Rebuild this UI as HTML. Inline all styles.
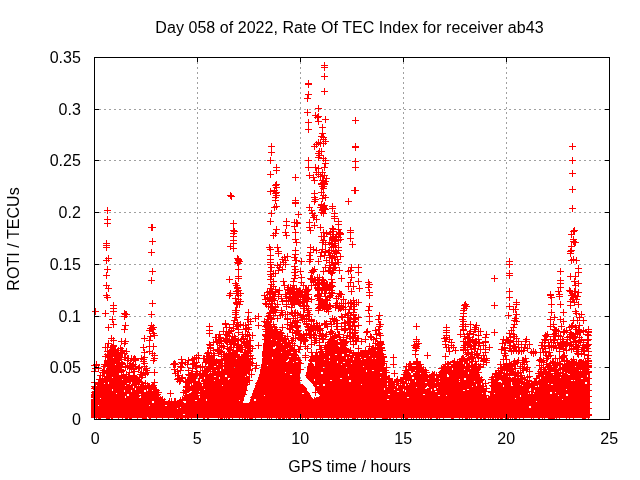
<!DOCTYPE html>
<html><head><meta charset="utf-8"><title>ROTI ab43</title>
<style>html,body{margin:0;padding:0;background:#fff;width:640px;height:480px;overflow:hidden}
svg{display:block}
text{font-family:"Liberation Sans",Arial,sans-serif;font-size:16px;letter-spacing:0.05px;fill:#000}
</style></head><body>
<svg width="640" height="480" viewBox="0 0 640 480">
<rect width="640" height="480" fill="#fff"/>
<path d="M197.5 57V419M300.5 57V419M403.5 57V419M506.5 57V419M94 367.5H609M94 316.5H609M94 264.5H609M94 212.5H609M94 160.5H609M94 109.5H609" stroke="#a0a0a0" stroke-width="1" stroke-dasharray="2 3" fill="none" shape-rendering="crispEdges"/>
<defs><marker id="m" markerUnits="userSpaceOnUse" markerWidth="8" markerHeight="8" refX="0" refY="0" overflow="visible"><path d="M-3 0h7v1h-7zM0 -3h1v7h-1z" fill="#f00" shape-rendering="crispEdges"/></marker>
<mask id="hm" maskUnits="userSpaceOnUse" x="0" y="0" width="640" height="480"><rect width="640" height="480" fill="#fff"/><g fill="#000" shape-rendering="crispEdges"><path d="M91 397h1v2h-1zM92 398h1v1h-1zM93 388h1v1h-1zM93 390h2v1h-2zM94 386h2v1h-2zM94 394h2v1h-2zM95 384h2v2h-2zM98 382h1v1h-1zM98 405h1v1h-1zM100 398h1v1h-1zM101 376h2v2h-2zM102 369h2v1h-2zM103 377h1v1h-1zM104 368h2v2h-2zM104 383h1v1h-1zM105 367h2v1h-2zM105 374h1v2h-1zM106 370h1v1h-1zM107 361h2v1h-2zM107 365h1v2h-1zM108 382h1v2h-1zM109 355h1v1h-1zM112 377h1v1h-1zM112 389h1v2h-1zM113 356h1v2h-1zM114 361h2v1h-2zM115 363h1v2h-1zM116 393h1v1h-1zM119 366h1v1h-1zM119 373h2v2h-2zM121 373h2v1h-2zM122 375h2v1h-2zM122 379h1v1h-1zM122 414h1v2h-1zM124 390h1v2h-1zM125 385h1v1h-1zM125 396h1v2h-1zM127 383h2v1h-2zM127 394h2v2h-2zM130 384h1v1h-1zM131 376h1v1h-1zM131 382h1v2h-1zM131 390h1v2h-1zM132 378h2v2h-2zM132 381h2v2h-2zM133 379h1v2h-1zM133 386h1v2h-1zM135 388h1v2h-1zM135 389h1v1h-1zM137 385h1v1h-1zM139 385h1v1h-1zM139 394h2v1h-2zM139 397h1v1h-1zM140 383h1v1h-1zM140 396h1v2h-1zM143 382h1v1h-1zM144 383h2v2h-2zM144 384h1v2h-1zM144 390h2v2h-2zM145 385h1v1h-1zM146 384h2v1h-2zM146 386h1v1h-1zM147 389h1v2h-1zM147 417h1v2h-1zM149 386h2v1h-2zM149 405h1v1h-1zM149 412h2v2h-2zM152 385h2v1h-2zM152 386h1v1h-1zM152 390h1v1h-1zM152 401h2v2h-2zM153 389h1v2h-1zM159 396h1v1h-1zM165 405h1v1h-1zM166 405h1v1h-1zM168 402h2v2h-2zM177 408h1v1h-1zM180 407h1v1h-1zM182 399h1v2h-1zM183 401h2v1h-2zM183 414h2v2h-2zM184 394h1v2h-1zM184 401h2v2h-2zM187 393h2v1h-2zM188 382h1v1h-1zM189 392h2v1h-2zM190 384h1v2h-1zM190 391h2v1h-2zM191 375h2v1h-2zM192 383h1v2h-1zM193 372h2v1h-2zM194 372h2v1h-2zM195 375h1v1h-1zM195 400h2v1h-2zM196 379h2v2h-2zM197 376h2v2h-2zM197 378h1v1h-1zM198 394h2v1h-2zM199 391h1v1h-1zM199 396h1v2h-1zM200 374h2v1h-2zM200 379h2v1h-2zM200 380h1v2h-1zM201 382h2v1h-2zM202 384h1v2h-1zM204 372h1v1h-1zM204 376h1v1h-1zM204 377h1v2h-1zM204 389h1v1h-1zM206 399h1v2h-1zM207 373h2v1h-2zM209 372h1v1h-1zM210 364h1v1h-1zM210 369h1v1h-1zM211 370h1v1h-1zM211 372h1v1h-1zM212 362h1v1h-1zM214 366h2v1h-2zM214 376h2v1h-2zM214 380h1v1h-1zM215 362h1v1h-1zM216 364h2v1h-2zM216 370h1v1h-1zM218 376h1v2h-1zM219 368h2v1h-2zM219 377h1v2h-1zM220 369h1v2h-1zM221 358h1v1h-1zM222 370h1v1h-1zM222 385h1v1h-1zM223 361h1v2h-1zM223 364h1v2h-1zM223 367h1v2h-1zM225 375h2v2h-2zM228 365h2v1h-2zM228 378h2v1h-2zM228 379h1v1h-1zM229 357h2v1h-2zM231 355h1v1h-1zM232 355h2v1h-2zM232 363h2v1h-2zM232 371h1v2h-1zM233 356h1v1h-1zM233 364h1v1h-1zM234 367h2v1h-2zM235 358h1v2h-1zM236 358h2v1h-2zM238 356h2v1h-2zM239 357h1v2h-1zM239 358h1v1h-1zM239 400h1v1h-1zM245 376h1v1h-1zM246 368h1v1h-1zM247 374h2v2h-2zM248 365h1v2h-1zM244 390h1v2h-1zM245 399h1v1h-1zM246 393h1v1h-1zM248 394h1v1h-1zM248 400h1v1h-1zM249 388h2v2h-2zM249 398h1v1h-1zM251 387h1v2h-1zM251 389h1v1h-1zM252 386h1v1h-1zM252 397h2v1h-2zM253 383h1v2h-1zM254 378h1v1h-1zM254 381h1v1h-1zM254 399h2v2h-2zM255 399h1v1h-1zM257 370h2v1h-2zM261 363h1v2h-1zM262 357h1v1h-1zM264 395h1v1h-1zM265 330h1v2h-1zM267 364h1v2h-1zM268 323h1v1h-1zM268 326h1v1h-1zM268 328h2v2h-2zM271 339h1v1h-1zM272 327h2v2h-2zM272 332h1v1h-1zM272 357h1v2h-1zM273 328h2v2h-2zM273 329h1v1h-1zM273 347h2v2h-2zM274 330h2v1h-2zM274 333h1v2h-1zM275 346h1v2h-1zM276 331h2v1h-2zM276 340h1v1h-1zM281 342h1v1h-1zM281 352h1v1h-1zM282 339h2v1h-2zM283 343h1v2h-1zM285 372h1v1h-1zM286 349h1v1h-1zM286 361h2v1h-2zM287 340h2v2h-2zM287 341h2v1h-2zM287 360h1v2h-1zM288 348h1v1h-1zM288 359h1v2h-1zM289 356h2v1h-2zM290 374h2v1h-2zM291 352h2v1h-2zM293 362h1v1h-1zM294 346h1v1h-1zM296 361h2v1h-2zM297 356h1v1h-1zM299 354h2v2h-2zM300 382h2v2h-2zM301 358h2v1h-2zM301 359h1v1h-1zM301 361h1v1h-1zM301 379h1v1h-1zM302 368h1v2h-1zM302 393h2v1h-2zM303 365h2v1h-2zM304 356h2v2h-2zM304 372h1v1h-1zM307 390h1v1h-1zM308 362h2v1h-2zM312 358h1v2h-1zM312 362h2v1h-2zM313 362h2v2h-2zM314 357h1v1h-1zM314 364h1v2h-1zM314 379h1v2h-1zM315 355h1v1h-1zM317 385h2v1h-2zM321 372h2v2h-2zM322 354h1v2h-1zM323 350h2v1h-2zM323 353h1v1h-1zM323 367h2v1h-2zM323 384h2v2h-2zM324 352h2v2h-2zM324 359h1v1h-1zM325 348h1v2h-1zM329 356h1v2h-1zM329 360h1v1h-1zM330 380h2v1h-2zM331 341h2v1h-2zM332 337h2v2h-2zM333 336h1v1h-1zM334 341h2v1h-2zM335 354h2v1h-2zM337 344h1v2h-1zM337 347h1v2h-1zM337 361h1v2h-1zM340 351h1v2h-1zM340 378h2v1h-2zM341 364h1v1h-1zM342 354h2v2h-2zM343 362h2v1h-2zM344 346h2v1h-2zM346 357h1v2h-1zM346 367h1v1h-1zM347 353h2v1h-2zM348 374h1v2h-1zM349 357h1v1h-1zM349 380h2v2h-2zM350 349h1v1h-1zM350 354h2v1h-2zM351 350h1v1h-1zM351 363h1v1h-1zM352 351h1v1h-1zM353 358h1v2h-1zM354 356h1v1h-1zM358 353h1v1h-1zM360 355h2v1h-2zM360 356h1v2h-1zM361 355h1v1h-1zM361 359h1v1h-1zM361 384h1v1h-1zM363 366h1v1h-1zM364 358h2v1h-2zM365 353h1v1h-1zM365 358h1v1h-1zM366 370h1v2h-1zM368 354h2v2h-2zM368 362h1v1h-1zM368 363h1v2h-1zM369 362h1v2h-1zM372 358h1v2h-1zM372 370h2v1h-2zM373 352h1v2h-1zM373 354h1v2h-1zM373 355h1v1h-1zM375 352h1v1h-1zM375 357h1v2h-1zM375 359h1v1h-1zM376 355h1v1h-1zM378 356h2v1h-2zM379 354h1v1h-1zM380 372h2v1h-2zM380 377h1v1h-1zM381 358h2v1h-2zM381 360h1v1h-1zM381 361h1v1h-1zM383 366h2v1h-2zM384 388h1v2h-1zM385 368h1v1h-1zM387 380h1v1h-1zM387 383h1v2h-1zM387 386h1v1h-1zM387 399h2v1h-2zM388 394h2v1h-2zM390 378h1v1h-1zM392 381h1v2h-1zM393 380h1v1h-1zM394 389h1v1h-1zM395 383h1v1h-1zM395 385h1v1h-1zM397 386h1v2h-1zM397 391h2v1h-2zM399 381h1v2h-1zM399 384h1v1h-1zM401 384h1v1h-1zM403 380h2v1h-2zM403 389h1v2h-1zM404 377h1v1h-1zM404 380h1v1h-1zM405 384h1v2h-1zM405 390h1v2h-1zM406 372h1v1h-1zM407 381h1v2h-1zM407 397h2v1h-2zM408 368h1v1h-1zM408 384h1v1h-1zM409 371h2v2h-2zM409 381h1v2h-1zM411 373h2v2h-2zM412 364h1v1h-1zM412 365h2v1h-2zM412 377h2v2h-2zM413 372h2v1h-2zM414 365h2v1h-2zM415 370h1v1h-1zM415 380h1v2h-1zM416 387h1v1h-1zM420 373h1v1h-1zM421 369h1v1h-1zM423 370h2v1h-2zM423 394h2v1h-2zM424 370h2v1h-2zM425 372h2v2h-2zM425 382h2v1h-2zM425 388h2v1h-2zM426 387h1v2h-1zM427 386h1v2h-1zM428 378h1v1h-1zM428 387h1v1h-1zM429 374h1v1h-1zM431 389h1v2h-1zM434 376h2v2h-2zM434 388h2v2h-2zM435 377h1v1h-1zM435 382h1v1h-1zM435 391h2v1h-2zM436 374h1v2h-1zM437 387h1v1h-1zM438 395h2v1h-2zM439 378h1v1h-1zM439 381h1v1h-1zM445 365h2v1h-2zM446 367h1v1h-1zM446 395h1v1h-1zM447 374h1v1h-1zM447 375h2v2h-2zM449 364h2v2h-2zM451 361h1v1h-1zM451 362h2v2h-2zM451 363h1v2h-1zM452 362h2v1h-2zM452 368h1v2h-1zM459 379h1v1h-1zM459 381h1v1h-1zM460 361h1v1h-1zM461 359h1v2h-1zM461 361h1v1h-1zM462 356h1v2h-1zM463 361h1v2h-1zM463 362h1v2h-1zM463 390h2v1h-2zM464 355h2v1h-2zM464 356h1v1h-1zM464 369h1v1h-1zM464 378h2v2h-2zM465 353h1v1h-1zM465 357h2v1h-2zM465 364h1v2h-1zM467 356h2v1h-2zM467 389h2v1h-2zM468 361h1v2h-1zM468 372h1v2h-1zM469 355h1v1h-1zM470 360h2v1h-2zM470 363h1v2h-1zM470 368h1v1h-1zM472 386h1v1h-1zM473 362h2v1h-2zM473 363h1v2h-1zM474 381h1v1h-1zM476 366h2v1h-2zM476 384h1v2h-1zM481 383h1v2h-1zM482 393h1v1h-1zM483 382h2v1h-2zM484 387h1v1h-1zM485 397h1v1h-1zM489 399h2v1h-2zM490 401h1v2h-1zM493 383h1v2h-1zM494 374h1v1h-1zM494 377h1v2h-1zM494 392h1v2h-1zM497 371h1v1h-1zM498 369h2v1h-2zM498 381h2v1h-2zM499 380h2v2h-2zM501 381h1v2h-1zM502 365h1v1h-1zM502 374h1v1h-1zM503 371h1v1h-1zM503 385h1v2h-1zM504 366h1v1h-1zM505 371h1v2h-1zM506 363h2v1h-2zM506 368h2v2h-2zM508 368h1v2h-1zM508 371h1v2h-1zM508 376h1v1h-1zM510 372h1v1h-1zM510 376h2v1h-2zM511 377h1v1h-1zM511 382h1v2h-1zM511 384h1v2h-1zM512 370h1v1h-1zM512 376h2v1h-2zM512 385h1v1h-1zM514 373h1v1h-1zM515 398h1v1h-1zM516 376h1v2h-1zM519 377h1v1h-1zM520 384h1v1h-1zM520 395h1v2h-1zM522 377h1v1h-1zM522 385h1v1h-1zM523 380h2v1h-2zM525 381h1v1h-1zM528 381h1v1h-1zM528 393h1v1h-1zM529 382h1v2h-1zM529 389h2v2h-2zM529 406h2v2h-2zM530 388h1v1h-1zM530 392h1v2h-1zM531 384h2v1h-2zM531 385h1v2h-1zM533 384h1v1h-1zM533 393h1v1h-1zM534 390h1v2h-1zM535 386h2v1h-2zM536 401h1v1h-1zM537 378h2v2h-2zM537 380h1v1h-1zM538 385h1v2h-1zM539 375h1v2h-1zM540 374h1v1h-1zM540 377h1v1h-1zM540 378h1v1h-1zM542 367h2v2h-2zM542 370h2v1h-2zM542 371h2v1h-2zM543 369h1v2h-1zM543 370h1v1h-1zM544 375h1v1h-1zM546 368h1v1h-1zM547 370h1v1h-1zM548 366h2v2h-2zM548 367h1v1h-1zM548 383h1v1h-1zM550 392h2v2h-2zM551 364h2v1h-2zM551 372h1v1h-1zM551 384h2v1h-2zM552 365h1v2h-1zM552 372h2v1h-2zM553 374h1v1h-1zM555 392h1v1h-1zM557 368h1v1h-1zM558 364h2v1h-2zM558 366h1v2h-1zM558 395h1v1h-1zM559 371h1v1h-1zM560 377h1v1h-1zM561 365h1v2h-1zM561 370h1v1h-1zM561 371h1v1h-1zM561 374h1v1h-1zM562 399h1v1h-1zM564 372h1v1h-1zM565 365h2v1h-2zM566 389h1v1h-1zM566 394h2v2h-2zM567 373h1v1h-1zM568 364h2v1h-2zM568 374h2v1h-2zM569 374h1v1h-1zM570 363h2v2h-2zM571 361h1v1h-1zM571 380h2v1h-2zM574 364h1v2h-1zM574 380h1v1h-1zM575 366h1v1h-1zM577 362h1v1h-1zM578 366h1v1h-1zM579 365h2v1h-2zM579 370h1v1h-1zM581 361h1v1h-1zM581 363h2v2h-2zM581 370h1v1h-1zM581 378h2v1h-2zM582 362h1v1h-1zM583 363h2v2h-2zM584 361h2v2h-2zM585 365h2v1h-2zM585 382h2v2h-2zM587 375h1v2h-1zM588 372h1v2h-1zM588 380h1v2h-1zM589 370h1v1h-1z"/><path d="M277 302L284 302L284 311L277 311Z"/><path d="M276 318L282 318L282 327L276 327Z"/><path d="M293 305L300 305L300 310L293 310Z"/><path d="M299 321L304 321L304 330L299 330Z"/><path d="M317 314L328 314L328 321L317 321Z"/><path d="M252 318L261 318L263 340L262 362L259 376L254 389L249 403L243 403L247 388L251 375L252 362L251 340Z"/><path d="M277 292L283 292L283 314L293 333L302 346L299 352L286 340L277 318Z"/><path d="M299 348L304 348L310 357L307 368L306 377L313 385L320 396L313 399L307 389L300 381L300 368L302 361L297 353Z"/><path d="M349 343L364 343L363 351L351 350Z"/><path d="M310 282L315 282L316 317L311 317Z"/></g></mask></defs>
<g fill="#f00" shape-rendering="crispEdges" mask="url(#hm)"><path d="M91 418L91 396L93 390L94 385L98 382.5L101.8 375L103 365L108 357.5L110.5 352.5L115.5 357.5L119 365L123 372.5L125.5 380L129 380L131.8 375L135.5 377.5L140.5 382.5L145.5 382.5L150.5 385L154 382.5L158 392.5L161.8 397.5L164 401L175 401L181 401L184 396L185 386L187 378L190.5 372.5L195.5 371.2L199 375L203 372L207 366L211 362L216 360L222 358L228 356L234 355L240 356L245 357L250 358L250 418Z"/><path d="M244 418L244 390L250 385L257 370L262.5 350L265 332L267 322L270.5 325L275.5 330L280 336L287 338L291 342L300 351L310 356L318 355L323 350L328 342.5L333 335L338 345L340.5 350L343 345L348 348L355 352L365 352L372 350L380 352L383 358L385.5 367.5L387 376L393 380L403 378L408 368L408 418Z"/><path d="M408 418L408 362.5L413 362.5L418 360L423 367.5L428 375L433 372.5L438 375L443 365L448 362.5L453 360L458 362.5L462 356L466 352L471 355L475 362L478 368L480 376L484 383L486 398L490 398L492 380L495 372L497.5 370L502.5 365L507.5 362.5L512.5 370L520 375L527.5 380L532.5 385L537.5 375L542.5 367.5L547.5 365L552.5 360L557.5 362.5L562.5 365L567.5 362.5L572.5 360L577.5 362.5L582.5 360L587.5 362.5L590 370L590 418Z"/></g>
<path d="M324 65 324 67 324 76 308 83 308 84 324 91 308 94 307 98 318 108 307 112 315 115 318 116 317 117 318 121 325 119 355 120 308 122 308 129 322 127 322 133 321 136 323 137 323 139 325 141 323 143 318 142 316 144 314 146 320 143 355 146 355 147 319 151 321 151 318 153 319 155 318 157 323 158 325 160 325 163 308 160 308 167 315 167 318 168 324 167 355 161 355 167 271 146 271 152 270 160 276 167 270 174 572 146 572 160 572 173 572 189 107 210 107 219 107 223 151 227 152 227 106 243 106 245 106 247 108 258 106 260 107 269 106 275 106 285 108 288 152 241 151 252 152 271 151 280 106 295 107 297 152 303 113 305 113 308 113 311 95 311 105 313 124 313 125 314 126 314 151 314 124 316 112 319 113 324 108 327 125 325 124 329 151 325 150 328 151 328 152 329 153 327 149 330 153 333 111 338 113 340 108 343 105 347 121 341 125 341 124 343 120 348 121 350 126 351 124 353 119 355 125 357 121 359 128 358 135 360 133 364 135 366 133 369 129 372 115 355 96 364 94 365 144 338 150 336 154 335 149 340 153 346 149 346 143 347 144 352 149 351 152 353 154 355 154 358 153 360 144 357 144 363 144 366 146 370 154 372 141 377 139 377 154 382 153 385 96 365 94 371 98 368 95 368 94 382 94 394 209 326 209 330 209 333 198 355 196 357 181 359 218 337 209 344 210 347 236 302 237 304 236 310 235 312 236 317 225 323 226 327 181 362 185 362 180 370 178 375 179 381 170 393 198 358 230 195 231 196 233 223 233 230 234 231 233 233 233 236 233 240 233 243 230 246 233 248 237 258 238 259 238 260 239 261 237 262 238 263 238 269 238 276 238 278 229 279 235 283 236 285 237 287 237 288 238 290 230 293 237 293 240 293 236 291 229 295 238 295 235 298 238 299 240 301 236 303 239 304 235 310 235 314 235 317 234 320 233 324 225 324 236 326 229 327 238 329 248 312 247 319 248 319 248 324 248 329 215 337 210 345 276 170 295 177 276 184 275 185 276 187 270 191 274 190 276 192 275 193 276 195 275 197 275 200 276 206 274 207 271 213 270 221 295 200 295 202 295 203 298 214 286 221 286 225 294 222 296 222 297 223 294 226 276 229 309 175 313 177 314 180 316 172 318 174 320 176 322 172 324 175 326 178 323 180 324 183 323 186 321 184 314 193 314 197 315 199 314 201 321 192 323 195 325 197 322 198 321 205 323 207 325 209 322 210 309 207 311 210 312 213 314 215 313 217 316 219 309 222 314 225 320 227 309 227 275 233 273 235 269 247 270 249 277 247 278 251 278 253 270 255 270 259 270 262 270 264 271 267 270 271 270 274 273 273 271 276 270 279 273 281 271 284 273 286 270 288 275 289 284 257 285 260 283 262 280 264 285 264 279 267 282 269 278 270 275 273 287 256 282 259 277 265 285 232 286 235 283 281 284 285 288 287 295 232 295 239 296 242 295 250 295 254 294 257 295 260 296 260 301 261 294 266 295 269 300 271 294 272 295 275 301 277 294 278 293 281 301 282 293 285 303 285 290 287 294 288 310 230 323 232 324 236 323 240 322 242 325 244 326 233 321 236 310 247 313 249 310 252 309 255 310 259 309 261 316 250 318 261 321 252 324 255 326 260 322 249 325 251 320 256 312 270 314 269 311 272 313 271 323 271 325 267 315 280 313 282 315 285 323 280 323 284 324 287 249 335 250 340 249 345 252 348 249 350 264 295 267 298 250 365 249 370 251 374 255 368 252 358 249 380 354 190 355 190 348 201 332 206 332 208 334 213 334 216 334 218 338 221 338 224 332 228 333 229 338 229 350 230 350 232 350 238 352 244 340 256 339 270 341 278 351 267 350 270 348 271 358 267 358 272 351 277 358 281 350 282 348 286 353 286 359 288 368 282 369 284 368 287 330 232 333 234 336 236 332 238 338 240 331 243 335 245 338 247 331 250 336 252 330 255 334 257 337 259 331 262 335 264 338 262 341 294 351 291 353 300 350 302 354 304 358 302 350 306 349 309 353 315 350 318 354 319 349 321 353 322 350 325 354 326 355 330 350 332 349 336 353 338 355 340 350 341 358 348 369 292 369 295 369 306 368 310 369 316 369 321 366 332 371 337 370 336 373 339 379 315 378 319 379 324 379 326 380 324 378 329 379 333 380 341 379 344 393 357 393 364 394 373 406 366 405 370 415 347 415 350 415 354 416 362 427 355 446 347 455 350 449 351 445 356 433 375 416 326 416 339 416 341 416 344 416 346 416 348 414 345 418 343 446 327 446 330 446 332 446 335 446 337 445 341 445 344 451 342 451 345 453 347 448 347 449 339 444 338 464 305 464 308 463 310 463 313 463 316 462 319 463 321 463 324 462 326 463 329 460 334 465 304 466 306 470 324 476 325 475 327 480 331 470 331 473 334 478 335 468 337 470 340 475 341 468 344 473 345 478 345 483 345 485 342 463 349 480 349 509 261 509 264 509 273 509 275 509 291 494 278 560 271 560 280 560 283 560 287 550 294 559 294 494 305 494 332 489 347 509 297 516 302 516 304 509 306 513 309 515 309 516 314 508 315 515 318 514 320 516 321 514 324 513 327 511 330 509 333 513 334 514 336 510 337 516 338 513 341 509 342 518 341 510 345 514 346 518 347 509 348 525 341 525 344 524 347 550 295 551 297 559 296 551 304 560 304 551 312 563 312 550 319 554 317 560 319 563 321 553 324 550 326 561 326 554 329 558 331 563 332 553 334 545 335 555 336 560 336 550 339 545 340 554 340 563 341 551 342 544 345 553 345 563 346 553 347 566 345 558 291 533 351 533 353 531 352 535 352 546 355 548 356 546 358 510 348 515 347 505 350 572 208 573 231 574 230 571 234 573 239 573 241 574 242 575 242 571 246 570 251 571 250 570 253 573 259 576 260 571 260 578 268 578 272 570 276 575 276 574 281 578 283 575 285 569 290 574 291 578 292 570 291 575 291 571 295 575 295 573 297 576 299 570 301 574 302 578 304 570 305 575 311 576 313 581 314 579 317 573 320 577 320 583 320 569 327 575 327 578 329 583 331 575 333 579 337 574 337 581 339 570 342 575 342 580 342 573 346 578 345 584 348 586 348 571 349 572 293 577 296 572 299 588 360 588 366 588 372 588 378 588 384 588 390 588 396 588 402 588 408 588 414 588 355 322 180 323 182 324 184 322 186 323 188 325 181 321 183 321 204 323 206 324 208 322 209 320 207 324 205 321 212 323 213 94 397 94 392 94 388 94 386 95 387 98 384 98 383 99 379 102 379 100 375 103 370 102 372 104 366 104 364 107 362 107 360 108 355 111 352 111 353 111 356 115 358 117 360 118 363 120 369 121 370 121 371 123 375 124 377 123 378 126 382 129 380 133 376 133 375 134 377 137 379 138 380 139 381 141 382 145 383 147 385 149 386 152 385 154 389 156 390 158 392 157 394 162 399 162 402 164 401 168 403 169 401 171 401 174 401 175 401 180 402 180 400 182 399 186 395 183 392 185 390 186 387 186 386 186 382 188 379 189 375 188 374 191 373 192 374 195 374 197 373 199 374 202 373 203 373 207 370 208 368 208 366 213 361 213 363 216 361 221 360 226 357 226 359 229 357 231 356 235 355 241 357 242 358 244 358 246 359 248 359 244 390 265 339 266 336 265 335 266 331 265 329 267 327 266 322 267 323 270 326 274 327 271 327 275 329 276 332 277 333 280 337 281 338 283 340 316 355 317 357 320 355 322 353 321 351 325 351 325 347 327 346 328 345 328 342 331 342 331 339 332 338 333 338 334 341 337 343 335 343 337 344 340 348 340 352 341 350 341 347 343 345 345 348 350 350 360 353 362 353 365 353 368 351 369 351 373 351 375 351 378 352 379 354 383 356 383 357 384 361 383 363 386 367 385 370 386 372 385 376 389 378 388 378 392 382 396 381 397 379 400 381 403 379 403 377 405 378 404 374 406 372 408 370 409 364 410 364 416 361 417 361 420 364 419 364 420 367 423 369 425 370 424 372 426 372 426 375 429 377 432 374 434 374 436 375 440 377 439 374 441 372 441 368 444 367 445 364 447 364 448 364 454 361 454 362 457 362 459 364 461 361 461 359 462 358 467 352 468 353 472 357 471 358 475 361 476 364 476 366 478 366 476 368 477 369 478 372 479 377 480 380 481 379 485 383 483 386 486 388 485 391 485 395 486 398 490 399 491 397 491 396 491 392 491 391 493 386 492 385 491 382 491 379 492 377 495 374 495 373 498 370 500 368 501 368 506 366 506 363 510 366 510 365 510 368 512 369 513 372 517 373 515 372 518 376 521 375 524 379 522 378 527 380 529 381 531 383 531 384 534 384 535 382 534 381 536 378 539 375 538 373 540 371 541 369 543 367 548 366 548 367 550 363 552 362 553 362 555 362 559 364 560 364 565 366 566 365 571 361 574 362 573 363 576 362 578 363 580 362 585 361 588 363 588 365 588 367 588 371 252 335 252 363 258 325 256 365 255 318 258 345 281 310 278 296 281 298 298 349 282 327 291 340 292 332 287 336 289 328 282 314 289 343 292 340 287 324 282 301 290 329 281 312 292 343 280 315 285 338 278 294 277 318 293 338 288 342 299 349 277 304 295 338 300 346 294 345 300 369 315 392 305 357 305 355 353 344 311 285 311 299 368 415 523 415 331 415 480 415 500 415 130 415 382 415 431 415 129 415 554 415 501 415 320 415 346 415 413 415 493 415 336 415 383 415 374 415 203 415 559 415 222 415 549 415 150 415 510 415 267 415 337 415 508 415 250 415 290 415 144 415 498 415 569 415 405 415 471 415 453 415 118 415 585 415 573 415 308 415 99 415 367 415 423 415 552 415 485 415 294 415 477 415 341 415 207 415 363 415 462 415 353 415 407 415 122 415 111 415 252 415 436 415 162 415 245 415 176 415 588 415 98 415 556 415 228 415 300 415 251 415 108 415 411 415 396 415 514 415 488 415 375 415 401 415 328 415 393 415 149 415 137 415 495 415 185 415 451 415 197 415 416 415 276 415 302 415 430 415 425 415 204 415 519 415 483 415 146 415 386 415 282 415 271 415 131 415 288 415 286 415 224 415 338 415 583 415 553 415 490 415 297 415 145 415 539 415 180 415 279 415 452 415 100 415 220 415 107 415 188 415 226 415 385 415 280 415 181 415 244 415 497 415 218 415 242 415 333 415 566 415 469 415 361 415 126 415 551 415 125 415 174 415 492 415 515 415 516 415 178 415 512 415 247 415 582 415 322 415 542 415 406 415 316 415 96 415 112 415 348 415 476 415 168 415 106 415 289 415 505 415 355 415 284 415 390 415 387 415 544 415 191 415 109 415 354 415 255 415 384 415 466 415 143 415 127 415 419 415 421 415 370 415 507 415 365 415 208 415 305 415 548 415 142 415 249 415 283 415 156 415 239 415 443 415 307 415 502 415 437 415 484 415 533 415 465 415 344 415 481 415 428 415 467 415 357 415 187 415 269 415 439 415 531 415 538 415 232 415 261 415 229 415 314 415 584 415 389 415 352 415 182 415 177 415 550 415 221 415 459 415 278 415 94 401 94 409 94 406 94 403 94 411 94 399 286 304 275 307 299 302 304 319 306 323 297 320 330 321 258 316 265 353 264 364 253 397 243 394 246 384 249 369 250 355 250 346 250 321 279 290 292 326 298 337 284 339 274 309 311 360 308 375 314 400 298 380 300 363 361 341 361 353 311 279 317 287 318 304 318 310 309 314 308 298 308 294 107 363 115 353 110 350 118 356 112 347 107 351 119 365 117 358 109 361 116 365 105 356 120 352 112 349 116 354 121 357 108 356 108 357 121 362 118 350 114 359 113 346 107 354 121 363 115 351 111 347 114 349 119 359 113 361 122 350 122 364 122 353 113 345 114 353 107 347 116 361 132 379 138 368 127 360 141 358 146 368 135 359 127 379 129 365 133 381 140 374 131 358 133 359 145 374 125 366 141 372 126 374 145 373 142 375 130 365 143 359 139 367 143 372 131 368 125 367 147 372 134 371 132 365 127 366 124 381 145 372 127 358 134 358 143 361 130 363 128 376 206 356 224 354 223 331 244 352 249 364 239 357 225 338 214 355 234 336 245 365 233 355 247 364 245 325 219 351 221 371 229 331 206 376 235 357 236 347 248 346 214 371 219 343 222 371 225 340 248 348 246 362 217 342 228 333 219 350 231 330 210 368 228 332 225 334 221 356 248 345 228 367 204 370 229 358 233 328 230 347 245 336 230 354 211 361 243 325 241 364 234 359 238 325 221 340 224 370 218 374 217 349 246 366 247 358 227 335 232 370 206 361 231 371 237 345 209 356 221 347 227 348 229 349 234 356 236 364 230 361 216 362 248 327 235 338 246 358 241 349 243 369 232 368 250 362 242 334 246 370 232 336 241 345 218 362 207 353 218 353 233 352 220 337 240 369 245 347 223 354 248 361 213 360 230 370 221 352 241 366 209 359 225 365 237 326 211 356 216 341 238 367 206 360 248 370 216 337 244 341 231 359 208 352 245 329 213 342 219 334 228 356 247 356 234 363 211 358 246 342 238 332 237 347 247 334 239 348 242 349 244 342 214 360 237 322 226 341 233 368 230 372 241 339 230 344 244 368 240 324 243 338 249 340 218 368 235 368 211 355 231 339 226 365 230 355 244 369 214 359 226 339 212 365 229 340 246 328 248 350 209 357 248 351 223 346 245 356 210 363 237 356 247 352 226 358 195 366 203 358 196 365 200 367 192 368 200 373 202 366 204 373 188 360 194 363 193 363 204 358 205 362 196 362 193 364 194 358 192 359 196 371 188 370 178 378 187 364 182 363 173 364 177 371 174 369 179 378 185 381 181 378 174 363 182 377 180 366 175 364 180 380 175 373 177 379 182 378 181 367 321 282 314 279 325 289 322 279 325 288 326 289 317 288 326 286 322 282 312 278 319 283 317 277 319 277 310 278 317 280 325 286 326 284 318 280 324 285 327 284 319 290 324 282 317 284 318 289 320 307 265 334 320 328 323 303 310 327 306 337 296 327 290 301 308 308 291 325 322 307 323 306 268 322 325 290 273 311 305 299 274 330 269 332 300 291 310 329 306 289 265 299 297 325 266 334 295 297 267 335 266 325 301 336 273 315 306 306 322 336 312 328 292 313 268 316 271 319 322 301 308 310 315 340 303 308 286 306 313 335 297 301 296 301 264 321 298 330 306 294 270 335 275 306 269 313 268 321 304 295 295 312 266 335 298 335 271 318 319 329 297 296 322 338 291 307 322 334 293 298 306 291 319 325 303 305 319 300 293 318 270 306 315 330 295 295 280 335 298 333 304 308 304 301 303 301 296 295 287 318 319 307 317 329 300 303 288 301 295 320 287 289 324 324 293 300 324 293 267 319 297 326 317 296 326 323 300 339 265 303 272 299 306 324 290 291 269 301 290 322 316 323 317 295 299 303 289 296 269 328 302 301 303 306 320 296 307 326 314 327 271 291 293 302 321 301 305 297 306 321 327 307 285 314 269 294 322 335 320 306 276 331 275 310 308 330 304 339 289 292 318 298 318 328 300 299 320 300 295 325 287 314 328 308 291 291 311 335 276 329 297 322 274 296 269 291 294 298 311 337 326 334 286 298 289 297 270 317 265 326 325 305 308 314 308 329 269 298 325 324 270 332 308 289 317 325 318 290 302 319 306 333 325 299 282 335 294 323 290 293 299 290 306 335 327 300 315 328 305 294 324 308 268 306 308 327 307 301 294 291 289 294 297 315 281 333 318 295 297 331 298 294 321 290 292 296 300 297 313 334 307 312 311 328 295 313 294 313 305 289 307 290 300 292 318 308 316 338 271 300 292 293 293 291 313 329 286 300 326 309 267 297 292 299 306 318 302 338 271 306 323 339 274 310 280 332 308 326 302 294 291 312 267 292 309 335 295 321 268 332 273 294 272 293 311 320 309 334 292 289 324 323 299 334 270 293 303 302 326 300 311 321 297 313 275 312 323 302 327 304 296 289 314 335 325 296 300 314 326 324 286 296 299 293 272 331 302 297 322 302 268 333 306 297 318 294 300 294 298 301 269 315 274 300 294 293 325 336 320 330 319 335 285 294 271 303 296 330 288 290 301 317 270 324 307 298 266 304 267 334 321 336 289 290 273 298 275 291 302 299 305 291 311 319 313 325 272 307 295 333 303 315 292 304 321 304 270 312 304 296 287 319 298 291 322 289 327 326 304 305 276 334 308 316 296 332 273 324 294 303 301 294 310 335 268 324 324 305 298 302 275 292 303 334 328 311 320 333 303 341 328 349 311 352 319 345 312 356 320 349 307 348 328 347 317 356 304 341 319 342 328 344 305 346 314 342 305 340 311 344 321 349 315 355 301 340 325 345 316 352 316 340 335 305 331 285 329 342 343 299 330 306 332 231 332 256 329 242 340 239 339 305 331 244 331 293 330 342 329 305 329 296 331 279 332 333 338 237 328 346 340 294 344 349 333 321 330 271 345 323 340 233 339 293 342 343 340 308 331 247 329 265 331 292 338 308 332 286 339 232 329 286 330 295 334 241 336 326 333 236 336 343 330 267 332 239 341 316 338 296 332 258 330 234 329 297 328 270 335 251 334 336 343 337 340 234 335 243 339 307 333 268 333 246 335 307 334 319 338 334 340 339 329 262 332 282 335 267 328 252 336 298 332 272 329 257 332 240 330 339 336 303 337 323 335 237 329 250 330 332 332 237 339 337 338 250 331 324 336 253 337 303 344 330 331 273 341 307 343 307 336 320 341 303 342 317 332 293 333 231 338 349 341 326 335 335 331 331 341 306 330 341 329 289 337 329 335 263 331 290 330 287 341 342 344 345 330 285 339 334 332 318 329 270 334 267 485 341 486 362 465 341 478 342 465 349 484 359 471 349 476 354 471 356 478 339 477 355 483 364 477 353 463 350 472 340 479 343 468 341 464 345 469 341 470 346 474 348 463 347 481 358 468 342 483 360 486 358 478 357 470 345 472 339 471 352 463 341 467 343 486 360 480 366 483 361 484 358 479 367 467 347 485 352 483 355 472 354 475 348 476 341 474 345 485 349 463 330 469 333 474 329 465 326 475 329 467 334 486 334 464 336 478 331 485 337 467 338 515 368 500 364 521 344 507 340 505 342 514 361 509 369 509 363 514 364 504 353 502 343 525 358 516 350 519 350 526 339 522 368 518 373 520 372 513 350 527 348 524 362 529 376 518 344 521 351 508 340 513 363 511 371 516 341 529 371 511 365 510 340 523 360 523 370 529 344 520 366 526 369 517 362 503 359 506 359 523 350 504 347 511 351 509 366 504 348 526 361 518 360 527 367 518 351 501 349 505 355 503 339 506 339 524 364 527 377 522 360 583 342 549 352 579 340 548 342 567 339 588 329 583 351 541 361 564 361 587 344 581 362 576 346 563 348 559 351 554 336 567 361 569 336 576 351 543 352 569 363 560 339 540 359 564 355 588 351 570 364 559 358 588 339 569 345 577 353 582 347 549 346 573 338 543 362 542 348 569 337 543 360 588 331 556 348 578 349 580 332 566 350 562 344 563 349 587 334 546 364 584 364 577 365 553 339 579 330 567 337 547 358 577 347 545 351 588 344 547 334 562 357 581 353 572 325 584 354 540 352 566 360 567 343 571 326 551 347 587 340 539 365 573 359 564 331 541 345 576 329 583 363 559 347 566 330 571 334 573 348 570 332 561 358 560 344 558 345 563 356 546 336 555 345 563 342 588 332 579 362 577 334 557 342 556 330 587 348 579 325 587 345 578 354 584 350 575 341 555 330 586 346 565 345 587 358 572 336 555 358 571 362 544 346 542 342 566 343 562 339 560 343 555 333 557 362 583 362 588 335 583 330 588 361 574 336 550 355 539 360 558 335 545 348 571 344 553 346 544 339 559 363 258 383 250 358 352 337 353 314 348 303 349 328 345 314 354 309 351 306 346 341 357 338 350 321 356 302 348 317 354 332 348 313 358 338 350 338 353 337 349 325 345 303 347 315 352 329 358 325 355 332 347 321 348 325 345 329 345 309 354 321 358 317 350 303 344 342 344 343 345 342 351 303 344 322 354 333 347 335 352 325 356 341 355 318 353 306 353 312 355 335 345 328 373 348 371 364 370 362 372 348 375 330 376 338 375 354 380 348 376 334 367 331 370 353 375 347 369 346 374 355 363 354 380 335 372 349 368 363 367 353 365 350 382 354 372 362 378 360 365 364 380 358 381 348 381 358 366 353 378 359 373 365 381 363 365 339 381 344 227 339 221 345 226 355 233 339 227 342 228 353 248 356 233 347 213 353 247 341 235 341 234 339 240 349 218 351 245 354 249 346 231 347 238 340 238 357 229 354 213 350 210 348 219 341 207 356 243 356 234 343 248 353 237 350 238 344 236 351 244 343 243 341 232 340 232 352 365 351 375 343 371 350 377 347 365 352 368 352 378 349 378 353 382 350 378 347 375 349 381 347 380 347 380 350 377 343 380 343 377 351 379 345 380 342" fill="none" stroke="none" marker-start="url(#m)" marker-mid="url(#m)" marker-end="url(#m)"/>
<rect x="94.5" y="57.5" width="515" height="362" fill="none" stroke="#000" stroke-width="1" shape-rendering="crispEdges"/>
<path d="M94.5 419v-5M94.5 57v5M197.5 419v-5M197.5 57v5M300.5 419v-5M300.5 57v5M403.5 419v-5M403.5 57v5M506.5 419v-5M506.5 57v5M609.5 419v-5M609.5 57v5M94 419.5h5M610 419.5h-5M94 367.5h5M610 367.5h-5M94 316.5h5M610 316.5h-5M94 264.5h5M610 264.5h-5M94 212.5h5M610 212.5h-5M94 160.5h5M610 160.5h-5M94 109.5h5M610 109.5h-5M94 57.5h5M610 57.5h-5" stroke="#000" stroke-width="1" fill="none" shape-rendering="crispEdges"/>
<g><text x="81" y="425" text-anchor="end">0</text><text x="81" y="373" text-anchor="end">0.05</text><text x="81" y="322" text-anchor="end">0.1</text><text x="81" y="270" text-anchor="end">0.15</text><text x="81" y="218" text-anchor="end">0.2</text><text x="81" y="166" text-anchor="end">0.25</text><text x="81" y="115" text-anchor="end">0.3</text><text x="81" y="63" text-anchor="end">0.35</text></g>
<g><text x="95.2" y="444" text-anchor="middle">0</text><text x="197.2" y="444" text-anchor="middle">5</text><text x="300.2" y="444" text-anchor="middle">10</text><text x="403.2" y="444" text-anchor="middle">15</text><text x="506.2" y="444" text-anchor="middle">20</text><text x="609.2" y="444" text-anchor="middle">25</text></g>
<text x="349.5" y="33" text-anchor="middle">Day 058 of 2022, Rate Of TEC Index for receiver ab43</text>
<text x="349.5" y="472" text-anchor="middle">GPS time / hours</text>
<text transform="translate(19 239) rotate(-90)" text-anchor="middle">ROTI / TECUs</text>
</svg>
</body></html>
